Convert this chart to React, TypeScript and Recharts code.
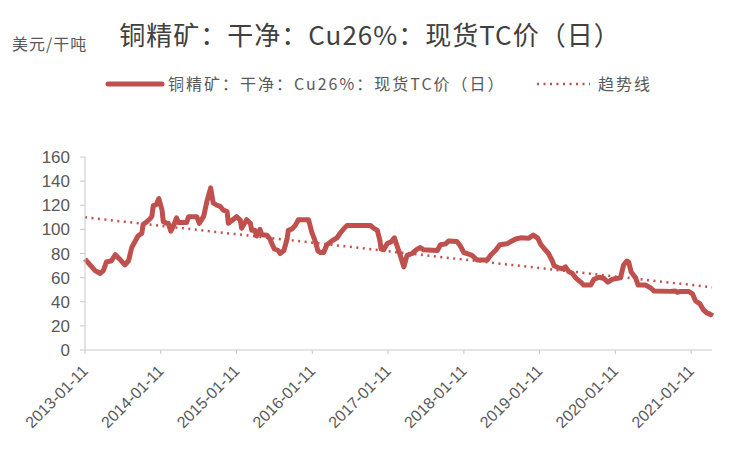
import { LineChart, Line, XAxis, YAxis, Legend } from 'recharts';

// months since 2013-01-11
const months = [
  0, 0.8, 1.6, 2.4, 2.9, 3.4, 4.2, 4.8, 5.5, 6.3, 6.9, 7.4, 7.9, 8.4, 9.0, 9.2, 9.8, 10.3, 10.6, 10.8,
  11.3, 11.7, 12.2, 12.4, 13.0, 13.2, 13.6, 14.0, 14.5, 14.8, 16.1, 16.4, 17.7, 18.1, 18.8, 19.3, 19.9,
  20.3, 20.9, 21.4, 21.9, 22.5, 22.7, 23.3, 24.0, 24.6, 24.8, 25.6, 26.2, 26.4, 26.9, 27.2, 27.7, 28.0,
  28.8, 29.3, 29.6, 30.0, 30.6, 30.9, 31.5, 32.0, 32.2, 32.8, 33.3, 33.8, 35.4, 35.9, 36.5, 36.9, 37.3,
  37.8, 38.3, 39.1, 39.9, 40.4, 40.9, 41.5, 45.2, 45.7, 46.3, 46.7, 46.9, 47.3, 47.9, 48.5, 49.0, 49.4,
  49.9, 50.5, 51.0, 51.8, 52.5, 53.1, 53.6, 55.8, 56.3, 57.1, 57.6, 58.9, 59.4, 60.0, 60.5, 61.3, 62.1,
  63.7, 64.3, 65.0, 65.7, 66.8, 67.4, 68.2, 69.0, 70.3, 71.0, 71.7, 72.2, 72.7, 73.4, 74.0, 74.3, 75.0,
  75.6, 76.1, 76.6, 77.2, 77.7, 78.5, 79.0, 80.1, 80.6, 81.4, 82.2, 82.8, 83.5, 84.8, 85.3, 85.8, 86.1,
  86.5, 87.2, 87.6, 88.8, 89.6, 90.1, 92.7, 93.5, 93.8, 94.3, 95.6, 96.2, 96.7, 97.4, 97.9, 98.5, 99.1,
  99.3,
];

const tcPrice = [
  75.3, 70.5, 65.8, 63.4, 65.8, 73, 74, 79, 75.3, 70.5, 74, 85, 89.7, 94.5, 96.8, 104, 106.4, 108.8, 111, 119.5,
  120.7, 125.5, 116, 106.4, 105, 105, 98.5, 102.8, 109.5, 105.7, 105.7, 110.5, 110.5, 105, 111, 123, 134.4,
  122, 120, 119, 116, 114.8, 105, 107.6, 110.5, 107.6, 101, 108, 105, 99.2, 99.2, 94.5, 100, 95.6,
  95.2, 92, 88, 83.7, 82.5, 80, 82.5, 92, 99.2, 100.4, 103.3, 108, 108, 98, 89.7, 82, 80.8,
  80.8, 87.3, 90.4, 93, 96.8, 100, 103.3, 103.3, 101, 99.2, 90.9, 83.7, 83.2, 88.5, 89.7, 93, 86.6,
  79, 68.9, 78.4, 80, 83.2, 85, 83.2, 82.5, 87.3, 88, 90.4, 90, 86.6, 80.8, 80, 78.4, 74.6,
  74.6, 79, 82.5, 87.3, 88, 89.7, 92, 93, 92.7, 95.2, 92.7, 87.3, 84.2, 80, 74, 69.8, 68.1,
  67.4, 68.9, 65, 63.4, 59.8, 56.2, 53.8, 53.8, 58.6, 60.3, 59.3, 56.2, 58.6, 59.8, 70.5, 73.7, 73,
  64.6, 59.8, 53.8, 53.8, 51.4, 49, 48.6, 49, 47.8, 48.6, 48.6, 46.6, 40.7, 38.2, 33.5, 30.6, 29.2,
  31,
];

const trendStart = 110;
const trendEnd = 52;

const tickDates = [
  '2013-01-11', '2014-01-11', '2015-01-11', '2016-01-11', '2017-01-11',
  '2018-01-11', '2019-01-11', '2020-01-11', '2021-01-11',
];
const yTicks = [0, 20, 40, 60, 80, 100, 120, 140, 160];

const SERIES = '铜精矿：干净：Cu26%：现货TC价（日）';
const RED = '#C0504D';
const AXIS = '#C8C8C8';
const TEXT = '#595959';
const FONT = '"Liberation Sans", Arial, sans-serif';
const CJK = '"Noto Sans CJK SC", sans-serif';

const data = months.map((m, i) => ({
  m,
  tc: tcPrice[i],
  trend: i === 0 ? trendStart : i === months.length - 1 ? trendEnd : null,
}));

function DateTick({ x, y, payload }: any) {
  const label = tickDates[Math.round(payload.value / 12)];
  const ax = x + 4;
  const ay = y + 18;
  return (
    <text
      x={ax}
      y={ay}
      transform={`rotate(-45 ${ax} ${ay})`}
      textAnchor="end"
      fill={TEXT}
      fontSize={16}
      fontFamily={FONT}
    >
      {label}
    </text>
  );
}

function LegendContent() {
  return (
    <svg width={751} height={30} style={{ fontFamily: CJK }}>
      <line x1={108} y1={14} x2={162} y2={14} stroke={RED} strokeWidth={5} strokeLinecap="round" />
      <text x={168} y={19.5} fontSize={16} letterSpacing={2} fill={TEXT}>{SERIES}</text>
      <line x1={537} y1={14} x2={590} y2={14} stroke={RED} strokeWidth={2.5} strokeDasharray="2 4.5" />
      <text x={598} y={19.5} fontSize={16} letterSpacing={2} fill={TEXT}>趋势线</text>
    </svg>
  );
}

export default function App() {
  return (
    <div style={{ position: 'absolute', left: 0, top: 0, width: 751, height: 450, background: '#fff' }}>
      <div
        style={{
          position: 'absolute', left: 0, top: 19, width: 740, textAlign: 'center',
          fontFamily: CJK, fontSize: 26, color: '#404040', letterSpacing: 1, lineHeight: '30px',
        }}
      >
        {SERIES}
      </div>
      <div
        style={{
          position: 'absolute', left: 12, top: 33, fontFamily: CJK, fontSize: 16, color: TEXT,
          lineHeight: '20px', letterSpacing: 1,
        }}
      >
        美元/干吨
      </div>
      <LineChart width={751} height={450} data={data} margin={{ top: 127, right: 39, bottom: 0, left: 0 }}>
        <XAxis
          dataKey="m"
          type="number"
          domain={[0, 99.3]}
          ticks={tickDates.map((_, i) => i * 12)}
          tick={<DateTick />}
          height={100}
          stroke={AXIS}
          tickSize={4}
          tickMargin={0}
          interval={0}
        />
        <YAxis
          type="number"
          domain={[0, 160]}
          ticks={yTicks}
          width={85}
          stroke={AXIS}
          tickSize={5}
          tickMargin={10}
          tick={{ fill: TEXT, fontSize: 17, fontFamily: FONT }}
          interval={0}
        />
        <Legend
          verticalAlign="top"
          content={<LegendContent />}
          wrapperStyle={{ position: 'absolute', top: 70, left: 0, width: 751, height: 30 }}
        />
        <Line
          type="linear"
          dataKey="trend"
          stroke={RED}
          strokeWidth={2.5}
          strokeDasharray="2 4.5"
          dot={false}
          connectNulls
          isAnimationActive={false}
        />
        <Line
          type="linear"
          dataKey="tc"
          stroke={RED}
          strokeWidth={5}
          strokeLinejoin="round"
          dot={false}
          isAnimationActive={false}
        />
      </LineChart>
    </div>
  );
}
